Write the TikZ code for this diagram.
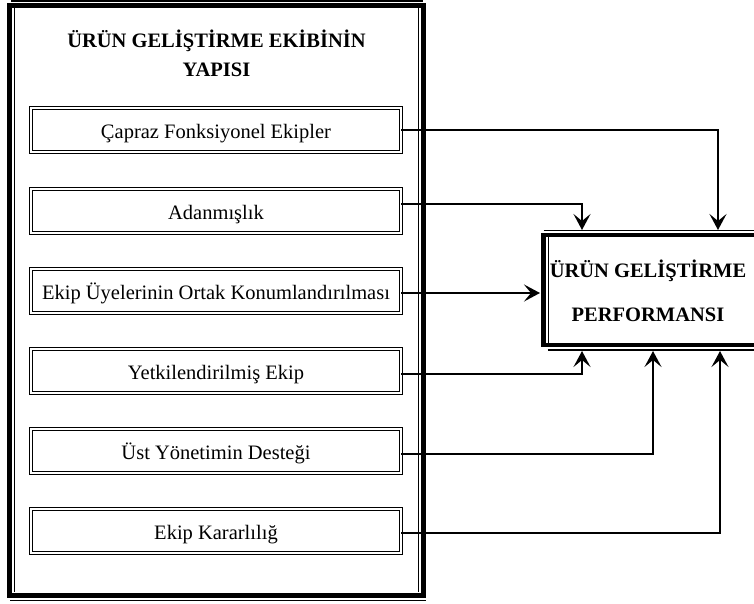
\documentclass[tikz,border=0pt]{standalone}
\usepackage{fontspec}
\setmainfont{Liberation Serif}
\usetikzlibrary{arrows.meta}
\begin{document}
\begin{tikzpicture}[x=1pt,y=-1pt,
  itembox/.style={draw,double,double distance=2pt,line width=0.9pt,
    minimum width=370pt,minimum height=44pt,inner sep=0pt,
    text height=19pt,text depth=3pt,font=\fontsize{20.5}{24}\selectfont},
  headtext/.style={anchor=base,align=center,inner sep=0pt},
  link/.style={line width=2.2pt,-{Stealth[length=16pt,width=17pt,inset=7pt]}},
  rule/.style={line width=1.2pt}]
  \useasboundingbox (0,0) rectangle (754,603);
  % frame of the team structure
  \draw[line width=5pt] (9,5) rectangle (423.5,595);
  \draw[rule] (11,1) -- (423,1);
  \draw[rule] (10,600.5) -- (426,600.5);
  \draw[rule] (14.5,8) -- (14.5,592);
  \draw[rule] (418.5,8) -- (418.5,592);
  \node[headtext,font=\bfseries\fontsize{20.5}{29}\selectfont] (title) at (216.5,76)
    {ÜRÜN GELİŞTİRME EKİBİNİN\\YAPISI};
  % factors
  \node[itembox] (cf) at (216,130) {Çapraz Fonksiyonel Ekipler};
  \node[itembox] (ad) at (216,211) {Adanmışlık};
  \node[itembox] (ek) at (216,291) {Ekip Üyelerinin Ortak Konumlandırılması};
  \node[itembox] (yt) at (216,371) {Yetkilendirilmiş Ekip};
  \node[itembox] (us) at (216,451) {Üst Yönetimin Desteği};
  \node[itembox] (kk) at (216,531) {Ekip Kararlılığ};
  % performance
  \node[draw,line width=4.5pt,minimum width=213pt,minimum height=110pt,outer sep=0pt] (perf) at (650,290) {};
  \draw[rule] ([yshift=4.5pt]perf.north west) -- ([yshift=4.5pt]perf.north east);
  \draw[rule] ([xshift=4pt,yshift=-5pt]perf.south west) -- ([yshift=-5pt]perf.south east);
  \draw[rule] ([xshift=5pt,yshift=-2pt]perf.north west) -- ([xshift=5pt,yshift=2pt]perf.south west);
  \node[headtext,font=\bfseries\fontsize{20.5}{44}\selectfont] (perftext) at (648,321)
    {ÜRÜN GELİŞTİRME\\PERFORMANSI};
  % links
  \draw[link] (cf.east) -| ([xshift=174.5pt,yshift=5pt]perf.north west);
  \draw[link] ([yshift=7pt]ad.east) -| ([xshift=38.5pt,yshift=5pt]perf.north west);
  \draw[link,shorten >=3.5pt] ([yshift=-2pt]ek.east) -- ([yshift=-2pt]ek.east -| perf.west);
  \draw[link] ([yshift=-3pt]yt.east) -| ([xshift=38.5pt,yshift=-6pt]perf.south west);
  \draw[link] ([yshift=-3pt]us.east) -| ([xshift=109.5pt,yshift=-6pt]perf.south west);
  \draw[link] ([yshift=-2pt]kk.east) -| ([xshift=176.5pt,yshift=-6pt]perf.south west);
\end{tikzpicture}
\end{document}
